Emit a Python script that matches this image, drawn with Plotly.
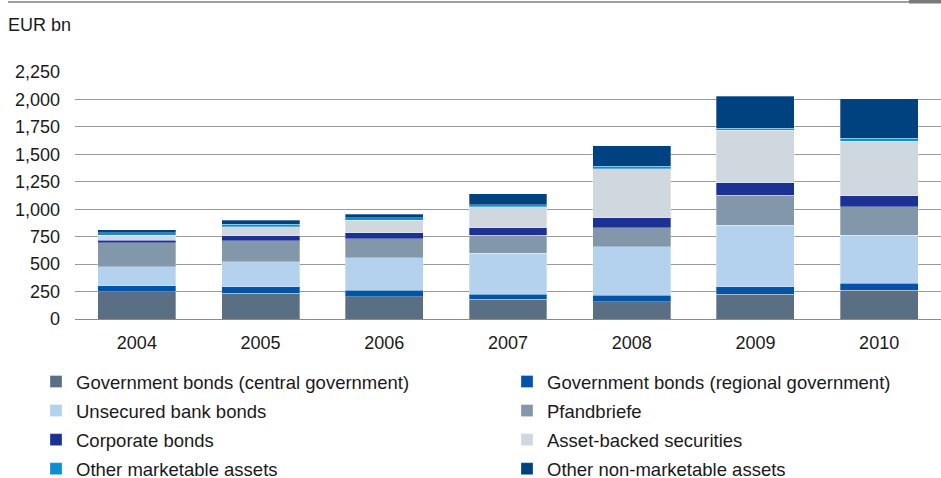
import plotly.graph_objects as go

years = ["2004", "2005", "2006", "2007", "2008", "2009", "2010"]

central_gov = [248, 233, 203, 179, 155, 224, 261]
regional_gov = [55, 61, 61, 48, 60, 70, 66]
unsecured = [173, 227, 294, 370, 442, 560, 434]
pfandbriefe = [218, 191, 175, 164, 173, 273, 263]
corporate = [24, 46, 55, 72, 94, 112, 100]
abs_sec = [46, 81, 112, 188, 446, 479, 494]
other_mkt = [21, 25, 24, 18, 21, 21, 30]
other_nonmkt = [30, 36, 30, 103, 185, 291, 358]

series = [
    ("Government bonds (central government)", central_gov, "#5B6F84", "legend"),
    ("Government bonds (regional government)", regional_gov, "#0353A8", "legend2"),
    ("Unsecured bank bonds", unsecured, "#B4D1EE", "legend"),
    ("Pfandbriefe", pfandbriefe, "#8397AA", "legend2"),
    ("Corporate bonds", corporate, "#1B3294", "legend"),
    ("Asset-backed securities", abs_sec, "#CFD7DF", "legend2"),
    ("Other marketable assets", other_mkt, "#0C8FD0", "legend"),
    ("Other non-marketable assets", other_nonmkt, "#00417F", "legend2"),
]

FONT = "Liberation Sans, Arial, sans-serif"
W, H = 941, 478
L, T, B = 75, 72, 159
PW, PH = W - L, H - T - B

fig = go.Figure()
for name, vals, col, lg in series:
    fig.add_trace(go.Bar(
        x=years, y=vals, name=name, legend=lg, legendgroup=name,
        marker=dict(color=col, line=dict(width=0.5, color="rgba(255,255,255,0.6)")),
    ))

legend_common = dict(xref="container", yref="container", xanchor="left", yanchor="top",
                     orientation="v", font=dict(size=18.5), tracegroupgap=2,
                     bgcolor="rgba(0,0,0,0)")

fig.update_layout(
    width=W, height=H,
    barmode="stack", bargap=0.37,
    margin=dict(l=L, r=0, t=T, b=B, autoexpand=False),
    paper_bgcolor="white", plot_bgcolor="white",
    font=dict(family=FONT, size=18, color="#1a1a1a"),
    xaxis=dict(showgrid=False, showline=False, ticks="", ticklabelstandoff=11,
               tickfont=dict(size=18)),
    yaxis=dict(range=[0, 2250], tickvals=[0, 250, 500, 750, 1000, 1250, 1500, 1750, 2000, 2250],
               tickformat=",d", showgrid=True, gridcolor="#9a9a9a", gridwidth=1,
               zeroline=True, zerolinecolor="#8a8a8a", zerolinewidth=1.2,
               ticklabelstandoff=14, tickfont=dict(size=18)),
    legend=dict(x=36 / W, y=1 - 363 / H, **legend_common),
    legend2=dict(x=507 / W, y=1 - 363 / H, **legend_common),
    annotations=[dict(text="EUR bn", x=(6 - L) / PW, y=(H - B - 25) / PH,
                      xref="paper", yref="paper", xanchor="left", yanchor="middle",
                      showarrow=False, font=dict(size=18))],
)

fig.add_shape(type="line", xref="paper", yref="paper",
              x0=(8 - L) / PW, x1=(909 - L) / PW,
              y0=(H - B - 2) / PH, y1=(H - B - 2) / PH,
              line=dict(color="#808080", width=1.5))
fig.add_shape(type="rect", xref="paper", yref="paper",
              x0=(909 - L) / PW, x1=1.0,
              y0=(H - B - 3.5) / PH, y1=(H - B + 0.5) / PH,
              fillcolor="#7a7a7a", line=dict(width=0))

fig.write_html("out.html", config={"displayModeBar": False},
               post_script="document.body.style.margin='0';document.body.style.overflow='hidden';")
